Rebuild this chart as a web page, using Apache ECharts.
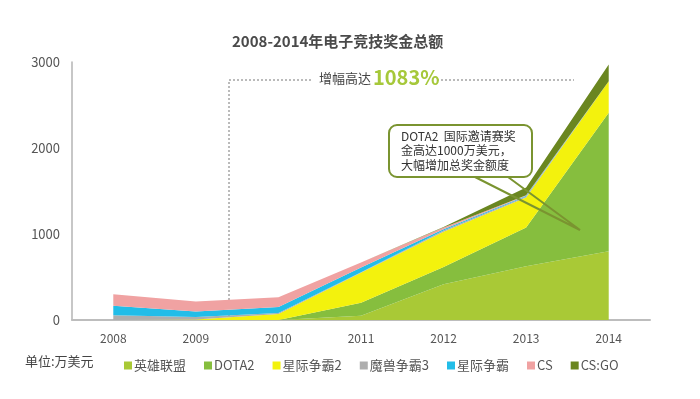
<!DOCTYPE html>
<html>
<head>
<meta charset="utf-8">
<script src="https://cdn.jsdelivr.net/npm/echarts@6/dist/echarts.min.js"></script>
<style>
  html,body{margin:0;padding:0;background:#fff;}
  #chart{width:700px;height:399px;}
</style>
</head>
<body>
<div id="chart"></div>
<script>
const years = ['2008','2009','2010','2011','2012','2013','2014'];
const lol   = [0, 0, 0, 50, 415, 625, 800];
const dota2 = [0, 0, 0, 150, 200, 450, 1610];
const sc2   = [0, 5, 70, 350, 410, 350, 365];
const wc3   = [55, 30, 10, 5, 15, 10, 0];
const sc    = [110, 65, 70, 55, 15, 10, 0];
const cs    = [135, 115, 115, 60, 20, 5, 0];
const csgo  = [0, 0, 0, 0, 5, 90, 195];
const yTicks = [0, 1000, 2000, 3000];

const names  = ['英雄联盟','DOTA2','星际争霸2','魔兽争霸3','星际争霸','CS','CS:GO'];
const colors = ['#a9c936','#86be3e','#f3f20d','#aeaeae','#22bde8','#f0a2a2','#6a8620'];
const values = [lol, dota2, sc2, wc3, sc, cs, csgo];

const font = '"Noto Sans CJK SC", "Noto Sans", sans-serif';

const chart = echarts.init(document.getElementById('chart'));
chart.setOption({
  animation:false,
  color:colors,
  textStyle:{fontFamily:font},
  title:{
    text:'2008-2014年电子竞技奖金总额',
    left:227, top:29,
    textStyle:{fontSize:15,fontWeight:'bold',color:'#4a4a4a',fontFamily:font}
  },
  grid:{left:72,right:50,top:62,bottom:79},
  legend:{
    data:names,
    left:119, top:354,
    itemWidth:8, itemHeight:8, itemGap:18,
    icon:'rect',
    textStyle:{fontSize:13,color:'#555',padding:[0,0,0,-3]}
  },
  xAxis:{
    type:'category', data:years, boundaryGap:true,
    axisLine:{lineStyle:{color:'#bdbdbd',width:2}},
    axisTick:{show:false},
    axisLabel:{color:'#555',fontSize:12,margin:12}
  },
  yAxis:{
    type:'value', min:yTicks[0], max:yTicks[yTicks.length-1], interval:1000,
    axisLine:{show:true,lineStyle:{color:'#b5b5b5',width:1.5}},
    axisTick:{show:false},
    splitLine:{show:false},
    axisLabel:{color:'#555',fontSize:13,margin:12,formatter:v=>String(v)}
  },
  series:names.map((n,i)=>({
    name:n, type:'line', stack:'total', data:values[i],
    symbol:'none', lineStyle:{width:0},
    areaStyle:{color:colors[i],opacity:1},
    itemStyle:{color:colors[i]}
  })),
  graphic:[
    {type:'text',left:25,top:355,style:{text:'单位:万美元',font:'13px '+font,fill:'#444'}},
    // growth annotation
    {type:'polyline',shape:{points:[[229,320],[229,80],[312,80]]},style:{stroke:'#777',lineWidth:1,lineDash:[2,2],fill:null}},
    {type:'line',shape:{x1:437,y1:80,x2:574,y2:80},style:{stroke:'#777',lineWidth:1,lineDash:[2,2]}},
    {type:'text',left:319,top:72,style:{text:'增幅高达',font:'13px '+font,fill:'#444'}},
    {type:'text',left:373,top:67,style:{text:'1083%',font:'bold 20px '+font,fill:'#a6c83a'}},
    // callout
    {type:'polyline',shape:{points:[[475,177],[580,230],[508,177]]},style:{stroke:'#7a9430',lineWidth:2,fill:null},z:10},
    {type:'rect',shape:{x:389,y:125,width:143,height:52,r:8},style:{fill:'#fff',stroke:'#7a9430',lineWidth:2},z:11},
    {type:'text',left:401,top:129,z:12,style:{text:'DOTA2  国际邀请赛奖\n金高达1000万美元，\n大幅增加总奖金额度',font:'12px '+font,fill:'#333',lineHeight:14.5}}
  ]
});
</script>
</body>
</html>
